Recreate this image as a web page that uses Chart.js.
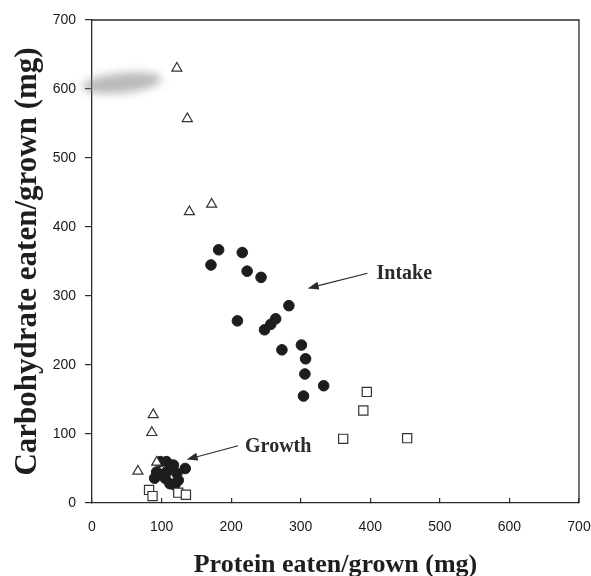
<!DOCTYPE html>
<html>
<head>
<meta charset="utf-8">
<script src="https://cdn.jsdelivr.net/npm/chart.js@4.4.0/dist/chart.umd.min.js"></script>
<style>
    html, body { margin: 0; padding: 0; background: #fff; }
</style>
</head>
<body>
<canvas id="chart" width="591" height="576"></canvas>
<script>
// ticks
const xTicks = [0, 100, 200, 300, 400, 500, 600, 700];
const yTicks = [0, 100, 200, 300, 400, 500, 600, 700];

// open triangles (intake at the top, growth near the origin)
const triangleX = [122, 137, 140, 172, 88, 86, 66, 93];
const triangleY = [630, 557, 422, 433, 128, 102, 46, 59];

// open squares
const squareX = [395, 390, 361, 453, 82, 87, 124, 135];
const squareY = [161, 134, 93, 94, 19, 10, 15, 12];

// filled circles, intake
const intakeX = [182, 216, 171, 223, 243, 283, 209, 264, 257, 248, 301, 273, 307, 306, 333, 304];
const intakeY = [367, 363, 345, 336, 327, 286, 264, 267, 259, 251, 229, 222, 209, 187, 170, 155];

// filled circles, growth
const growthX = [98, 107, 117, 134, 93, 107, 122, 90, 105, 124, 112, 119];
const growthY = [60, 60, 55, 50, 45, 45, 43, 36, 36, 33, 28, 26];

// labels with arrows: [text, text x, text y, tail x, tail y, tip x, tip y] in data units
const intakeNote = ['Intake', 409, 332, 396, 333, 310, 311];
const growthNote = ['Growth', 220, 82, 210, 83, 136, 63];

function toPoints(xs, ys) {
    return xs.map((x, i) => ({ x: x, y: ys[i] }));
}

const ink = '#2b2b2b';

// Dessin du cadre, des flèches et des annotations
const notesPlugin = {
    id: 'notes',
    beforeDatasetsDraw(chart) {
        const ctx = chart.ctx;
        ctx.save();
        ctx.filter = 'blur(4px)';
        ctx.fillStyle = 'rgba(140,140,140,0.6)';
        ctx.beginPath();
        ctx.ellipse(122, 83, 40, 10, -0.1, 0, Math.PI * 2);
        ctx.fill();
        ctx.restore();
    },
    afterDraw(chart) {
        const ctx = chart.ctx;
        const a = chart.chartArea;
        const sx = chart.scales.x, sy = chart.scales.y;
        ctx.save();
        ctx.strokeStyle = ink;
        ctx.lineWidth = 1.3;
        ctx.beginPath();
        ctx.moveTo(a.left, a.top);
        ctx.lineTo(a.right, a.top);
        ctx.lineTo(a.right, a.bottom);
        ctx.stroke();

        [intakeNote, growthNote].forEach(n => {
            const tx = sx.getPixelForValue(n[1]), ty = sy.getPixelForValue(n[2]);
            const x0 = sx.getPixelForValue(n[3]), y0 = sy.getPixelForValue(n[4]);
            const x1 = sx.getPixelForValue(n[5]), y1 = sy.getPixelForValue(n[6]);
            const ang = Math.atan2(y1 - y0, x1 - x0);
            ctx.strokeStyle = ink;
            ctx.fillStyle = ink;
            ctx.lineWidth = 1.2;
            ctx.beginPath();
            ctx.moveTo(x0, y0);
            ctx.lineTo(x1 - Math.cos(ang) * 8, y1 - Math.sin(ang) * 8);
            ctx.stroke();
            ctx.beginPath();
            ctx.moveTo(x1, y1);
            ctx.lineTo(x1 - Math.cos(ang) * 11 + Math.sin(ang) * 4, y1 - Math.sin(ang) * 11 - Math.cos(ang) * 4);
            ctx.lineTo(x1 - Math.cos(ang) * 11 - Math.sin(ang) * 4, y1 - Math.sin(ang) * 11 + Math.cos(ang) * 4);
            ctx.closePath();
            ctx.fill();
            ctx.font = 'bold 20px "Liberation Serif"';
            ctx.textAlign = 'left';
            ctx.textBaseline = 'middle';
            ctx.fillText(n[0], tx, ty);
        });
        ctx.restore();
    }
};

const ctx = document.getElementById('chart').getContext('2d');
const chart = new Chart(ctx, {
    type: 'scatter',
    data: {
        datasets: [
            {
                label: 'Triangles',
                data: toPoints(triangleX, triangleY),
                pointStyle: 'triangle',
                pointRadius: 5.8,
                backgroundColor: '#fff',
                borderColor: '#333',
                borderWidth: 1.2
            },
            {
                label: 'Squares',
                data: toPoints(squareX, squareY),
                pointStyle: 'rect',
                pointRadius: 6.5,
                backgroundColor: '#fff',
                borderColor: '#333',
                borderWidth: 1.2
            },
            {
                label: 'Intake',
                data: toPoints(intakeX, intakeY),
                pointStyle: 'circle',
                pointRadius: 5.3,
                backgroundColor: '#1d1d1d',
                borderColor: '#1d1d1d',
                borderWidth: 1
            },
            {
                label: 'Growth',
                data: toPoints(growthX, growthY),
                pointStyle: 'circle',
                pointRadius: 5.3,
                backgroundColor: '#1d1d1d',
                borderColor: '#1d1d1d',
                borderWidth: 1
            }
        ]
    },
    options: {
        responsive: false,
        animation: false,
        layout: { padding: { top: 20, right: 12, left: 0, bottom: 0 } },
        plugins: {
            legend: { display: false },
            tooltip: { enabled: false }
        },
        scales: {
            x: {
                type: 'linear',
                min: 0,
                max: 700,
                afterBuildTicks: scale => { scale.ticks = xTicks.map(v => ({ value: v })); },
                afterFit: scale => {
                    scale.height = 73;
                    scale.paddingLeft = 0;
                    scale.paddingRight = 0;
                },
                border: { color: ink, width: 1.3 },
                grid: { drawOnChartArea: false, tickLength: -5, color: ink, lineWidth: 1.2 },
                ticks: {
                    padding: 21,
                    color: '#1a1a1a',
                    font: { family: 'Liberation Sans', size: 14 }
                },
                title: {
                    display: true,
                    text: 'Protein eaten/grown (mg)',
                    color: '#1e1e1e',
                    font: { family: 'Liberation Serif', size: 26, weight: 'bold', lineHeight: 0.85 },
                    padding: { top: 0, bottom: 0 }
                }
            },
            y: {
                type: 'linear',
                min: 0,
                max: 700,
                afterBuildTicks: scale => { scale.ticks = yTicks.map(v => ({ value: v })); },
                afterFit: scale => {
                    scale.width = 92;
                    scale.paddingTop = 0;
                    scale.paddingBottom = 0;
                },
                border: { color: ink, width: 1.3 },
                grid: { drawOnChartArea: false, tickLength: 7, color: ink, lineWidth: 1.2 },
                ticks: {
                    padding: 9,
                    color: '#1a1a1a',
                    font: { family: 'Liberation Sans', size: 14 }
                },
                title: {
                    display: true,
                    text: 'Carbohydrate eaten/grown (mg)',
                    color: '#1e1e1e',
                    font: { family: 'Liberation Serif', size: 31, weight: 'bold', lineHeight: 1.2 },
                    padding: { top: 9, bottom: 0 }
                }
            }
        }
    },
    plugins: [notesPlugin]
});
</script>
</body>
</html>
